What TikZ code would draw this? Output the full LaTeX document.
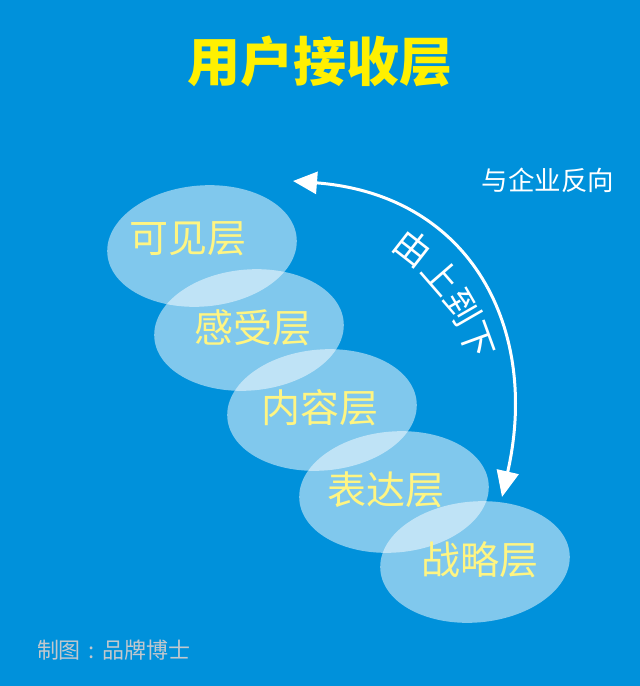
\documentclass[tikz,border=0pt]{standalone}
\usepackage{fontspec}
\newfontfamily\cjk{Noto Sans CJK SC}
\usetikzlibrary{arrows.meta,shapes.geometric}
\definecolor{bg}{RGB}{0,145,219}
\definecolor{titley}{RGB}{255,240,0}
\definecolor{lbl}{RGB}{255,245,130}
\definecolor{foot}{RGB}{195,200,205}
\tikzset{
  layer/.style={ellipse, fill=white, fill opacity=0.5, draw=none, minimum width=190pt, minimum height=121pt, inner sep=0pt, rotate=5},
  layertext/.style={text=lbl, font=\cjk\fontsize{39}{39}\selectfont, inner sep=0pt},
  arclbl/.style={text=white, font=\cjk\fontsize{36}{36}\selectfont, inner sep=0pt},
  arcline/.style={white, line width=3pt, arrows={Triangle[length=24pt,width=22pt]-Triangle[length=26pt,width=22pt]}},
}
\begin{document}
\begin{tikzpicture}[x=1pt,y=-1pt]
\fill[bg] (0,0) rectangle (640,686);
\useasboundingbox (0,0) rectangle (640,686);
\node[text=titley, font=\cjk\bfseries\fontsize{53}{53}\selectfont, inner sep=0pt] (title) at (320,62) {用户接收层};

\node[layer] (e1) at (202,246) {};
\node[layer] (e2) at (249,330) {};
\node[layer] (e3) at (322,410) {};
\node[layer] (e4) at (394,492) {};
\node[layer] (e5) at (475,562) {};

\node[layertext] (t1) at (188,239) {可见层};
\node[layertext] (t2) at (253,328) {感受层};
\node[layertext] (t3) at (320,408) {内容层};
\node[layertext] (t4) at (386,490) {表达层};
\node[layertext] (t5) at (480,560) {战略层};

\coordinate (s) at (293,181);
\coordinate (t) at (502,497);
\draw[arcline] (s) .. controls (472,195) and (540,330) .. (t);

\node[arclbl, rotate=-38] (c1) at (413,248) {由};
\node[arclbl, rotate=-49] (c2) at (442,276) {上};
\node[arclbl, rotate=-60] (c3) at (462,307) {到};
\node[arclbl, rotate=-70] (c4) at (476,340) {下};

\node[text=white, font=\cjk\fontsize{26.5}{26.5}\selectfont, inner sep=0pt] (dir) at (548,180) {与企业反向};
\node[text=foot, font=\cjk\fontsize{22}{22}\selectfont, inner sep=0pt] (credit) at (114,650) {制图\makebox[22pt]{:}品牌博士};
\end{tikzpicture}
\end{document}
